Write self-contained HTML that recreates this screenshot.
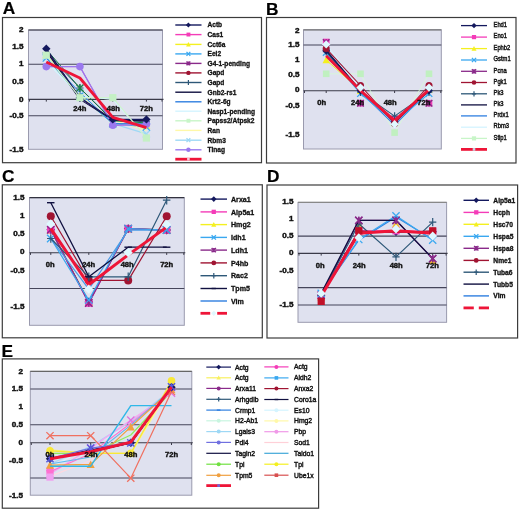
<!DOCTYPE html>
<html><head><meta charset="utf-8"><style>
html,body{margin:0;padding:0;background:#fff;width:520px;height:511px;overflow:hidden}
svg{display:block;filter:blur(0.35px)}
text{font-family:"Liberation Sans", sans-serif}
</style></head><body>
<svg width="520" height="511" viewBox="0 0 520 511">
<rect width="520" height="511" fill="#fff"/>
<rect x="2.5" y="17.5" width="259.0" height="145.2" fill="#fff" stroke="#3c3c3c" stroke-width="1.2"/>
<text x="2.8" y="14.0" font-size="17.3" font-weight="bold" text-anchor="start" fill="#000" stroke="#000" stroke-width="0.2">A</text>
<rect x="28.5" y="30" width="134.0" height="119.30000000000001" fill="#dfe1ef" stroke="#9a9aae" stroke-width="1"/>
<line x1="28.5" y1="30" x2="162.5" y2="30" stroke="#333340" stroke-width="1.2"/>
<line x1="28.5" y1="64.3" x2="162.5" y2="64.3" stroke="#45455a" stroke-width="1.1"/>
<line x1="28.5" y1="115.8" x2="162.5" y2="115.8" stroke="#45455a" stroke-width="1.1"/>
<line x1="28.5" y1="99.4" x2="163.5" y2="99.4" stroke="#3a3a48" stroke-width="1.1"/>
<line x1="46.3" y1="99.4" x2="46.3" y2="101.6" stroke="#3a3a48" stroke-width="1"/>
<line x1="79.9" y1="99.4" x2="79.9" y2="101.6" stroke="#3a3a48" stroke-width="1"/>
<line x1="112.8" y1="99.4" x2="112.8" y2="101.6" stroke="#3a3a48" stroke-width="1"/>
<line x1="146.4" y1="99.4" x2="146.4" y2="101.6" stroke="#3a3a48" stroke-width="1"/>
<line x1="29.5" y1="99.4" x2="29.5" y2="101.6" stroke="#3a3a48" stroke-width="1"/>
<line x1="162.0" y1="99.4" x2="162.0" y2="101.6" stroke="#3a3a48" stroke-width="1"/>
<text x="23.5" y="32.2" font-size="8.1" font-weight="bold" text-anchor="end" fill="#111" stroke="#111" stroke-width="0.45">2</text>
<text x="23.5" y="49.3" font-size="8.1" font-weight="bold" text-anchor="end" fill="#111" stroke="#111" stroke-width="0.45">1.5</text>
<text x="23.5" y="66.4" font-size="8.1" font-weight="bold" text-anchor="end" fill="#111" stroke="#111" stroke-width="0.45">1</text>
<text x="23.5" y="83.7" font-size="8.1" font-weight="bold" text-anchor="end" fill="#111" stroke="#111" stroke-width="0.45">0.5</text>
<text x="23.5" y="101.5" font-size="8.1" font-weight="bold" text-anchor="end" fill="#111" stroke="#111" stroke-width="0.45">0</text>
<text x="23.5" y="118.2" font-size="8.1" font-weight="bold" text-anchor="end" fill="#111" stroke="#111" stroke-width="0.45">-0.5</text>
<text x="23.5" y="152.1" font-size="8.1" font-weight="bold" text-anchor="end" fill="#111" stroke="#111" stroke-width="0.45">-1.5</text>
<polyline points="46.3,61.5 79.9,96.0 112.8,99.4 146.4,137.4" fill="none" stroke="#d4f4ff" stroke-width="1.1" stroke-linejoin="round"/>
<polyline points="46.3,58.0 79.9,96.0 112.8,120.1 146.4,130.5" fill="none" stroke="#fff8a8" stroke-width="1.1" stroke-linejoin="round"/>
<polyline points="46.3,56.3 79.9,92.5 112.8,123.6 146.4,133.9" fill="none" stroke="#9ed8f5" stroke-width="1.1" stroke-linejoin="round"/>
<path d="M42.7 52.7L49.9 59.9M49.9 52.7L42.7 59.9" stroke="#9ed8f5" stroke-width="1.3" fill="none"/>
<path d="M76.3 88.9L83.5 96.1M83.5 88.9L76.3 96.1" stroke="#9ed8f5" stroke-width="1.3" fill="none"/>
<path d="M109.2 120.0L116.4 127.2M116.4 120.0L109.2 127.2" stroke="#9ed8f5" stroke-width="1.3" fill="none"/>
<path d="M142.8 130.3L150.0 137.5M150.0 130.3L142.8 137.5" stroke="#9ed8f5" stroke-width="1.3" fill="none"/>
<polyline points="46.3,66.6 79.9,66.6 112.8,125.3 146.4,124.2" fill="none" stroke="#f43cb8" stroke-width="1.0" stroke-linejoin="round"/>
<polyline points="46.3,54.6 79.9,96.0 112.8,123.6 146.4,125.3" fill="none" stroke="#f0f060" stroke-width="1.0" stroke-linejoin="round"/>
<path d="M46.3 50.6L50.3 58.2L42.3 58.2Z" fill="#f0f060"/>
<path d="M79.9 92.0L83.9 99.5L75.9 99.5Z" fill="#f0f060"/>
<path d="M112.8 119.6L116.8 127.2L108.8 127.2Z" fill="#f0f060"/>
<path d="M146.4 121.3L150.4 128.9L142.4 128.9Z" fill="#f0f060"/>
<polyline points="46.3,58.0 79.9,96.0 112.8,123.6 146.4,127.0" fill="none" stroke="#3aa8f0" stroke-width="1.0" stroke-linejoin="round"/>
<path d="M42.7 54.4L49.9 61.6M49.9 54.4L42.7 61.6" stroke="#3aa8f0" stroke-width="1.3" fill="none"/>
<path d="M76.3 92.4L83.5 99.5M83.5 92.4L76.3 99.5" stroke="#3aa8f0" stroke-width="1.3" fill="none"/>
<path d="M109.2 120.0L116.4 127.2M116.4 120.0L109.2 127.2" stroke="#3aa8f0" stroke-width="1.3" fill="none"/>
<path d="M142.8 123.4L150.0 130.6M150.0 123.4L142.8 130.6" stroke="#3aa8f0" stroke-width="1.3" fill="none"/>
<polyline points="46.3,49.4 79.9,97.7 112.8,120.1 146.4,120.1" fill="none" stroke="#8a2a8a" stroke-width="1.0" stroke-linejoin="round"/>
<polyline points="46.3,49.4 79.9,97.7 112.8,120.1 146.4,120.1" fill="none" stroke="#a01432" stroke-width="1.0" stroke-linejoin="round"/>
<polyline points="46.3,58.0 79.9,92.5 112.8,123.6 146.4,123.6" fill="none" stroke="#2f7fe0" stroke-width="1.0" stroke-linejoin="round"/>
<polyline points="46.3,52.8 79.9,88.0 112.8,120.1 146.4,121.8" fill="none" stroke="#2e5878" stroke-width="1.0" stroke-linejoin="round"/>
<path d="M42.7 52.8L49.9 52.8M46.3 48.7L46.3 56.9" stroke="#2e5878" stroke-width="1.2" fill="none"/>
<path d="M76.3 88.0L83.5 88.0M79.9 83.9L79.9 92.1" stroke="#2e5878" stroke-width="1.2" fill="none"/>
<path d="M109.2 120.1L116.4 120.1M112.8 116.0L112.8 124.2" stroke="#2e5878" stroke-width="1.2" fill="none"/>
<path d="M142.8 121.8L150.0 121.8M146.4 117.7L146.4 125.9" stroke="#2e5878" stroke-width="1.2" fill="none"/>
<polyline points="46.3,49.4 79.9,88.0 112.8,120.8 146.4,122.9" fill="none" stroke="#157a40" stroke-width="1.0" stroke-linejoin="round"/>
<path d="M76.3 84.4L83.5 91.6M83.5 84.4L76.3 91.6M79.9 84.4L79.9 91.6" stroke="#1d8048" stroke-width="1.4" fill="none"/>
<polyline points="46.3,51.1 79.9,99.4 112.8,120.1 146.4,120.8" fill="none" stroke="#101040" stroke-width="1.1" stroke-linejoin="round"/>
<polyline points="46.3,66.6 79.9,66.6 112.8,125.3 146.4,124.2" fill="none" stroke="#9a78ee" stroke-width="1.3" stroke-linejoin="round"/>
<circle cx="46.3" cy="66.6" r="3.8" fill="#9a78ee"/>
<circle cx="79.9" cy="66.6" r="3.8" fill="#9a78ee"/>
<circle cx="112.8" cy="125.3" r="3.8" fill="#9a78ee"/>
<circle cx="146.4" cy="124.2" r="3.8" fill="#9a78ee"/>
<polyline points="46.3,48.7 79.9,97.7 112.8,119.4 146.4,119.4" fill="none" stroke="#14195e" stroke-width="1.2" stroke-linejoin="round"/>
<path d="M46.3 44.5L50.5 48.7L46.3 52.9L42.1 48.7Z" fill="#14195e"/>
<path d="M79.9 93.5L84.1 97.7L79.9 101.9L75.7 97.7Z" fill="#14195e"/>
<path d="M112.8 115.2L117.0 119.4L112.8 123.6L108.6 119.4Z" fill="#14195e"/>
<path d="M146.4 115.2L150.6 119.4L146.4 123.6L142.2 119.4Z" fill="#14195e"/>
<polyline points="46.3,55.2 79.9,97.7 112.8,97.7 146.4,138.0" fill="none" stroke="#d0f4d0" stroke-width="1.2" stroke-linejoin="round"/>
<rect x="42.7" y="51.6" width="7.2" height="7.2" fill="#c4f0c4"/>
<rect x="76.3" y="94.1" width="7.2" height="7.2" fill="#c4f0c4"/>
<rect x="109.2" y="94.1" width="7.2" height="7.2" fill="#c4f0c4"/>
<rect x="142.8" y="134.4" width="7.2" height="7.2" fill="#c4f0c4"/>
<polyline points="46.3,62.1 79.9,78.0 112.8,117.3 146.4,127.7" fill="none" stroke="#ee1538" stroke-width="2.8" stroke-linejoin="round"/>
<text x="79.9" y="111.3" font-size="7.6" font-weight="bold" text-anchor="middle" fill="#111" stroke="#111" stroke-width="0.4">24h</text>
<text x="113.3" y="111.3" font-size="7.6" font-weight="bold" text-anchor="middle" fill="#111" stroke="#111" stroke-width="0.4">48h</text>
<text x="146.3" y="111.3" font-size="7.6" font-weight="bold" text-anchor="middle" fill="#111" stroke="#111" stroke-width="0.4">72h</text>
<line x1="175.3" y1="25.0" x2="201.5" y2="25.0" stroke="#14195e" stroke-width="1.4"/>
<path d="M188.4 22.4L190.9 25.0L188.4 27.6L185.9 25.0Z" fill="#14195e"/>
<text x="207.5" y="27.4" font-size="6.6" font-weight="bold" text-anchor="start" fill="#111" stroke="#111" stroke-width="0.3">Actb</text>
<line x1="175.3" y1="34.6" x2="201.5" y2="34.6" stroke="#f43cb8" stroke-width="1.4"/>
<rect x="186.5" y="32.6" width="3.9" height="3.9" fill="#f43cb8"/>
<text x="207.5" y="37.0" font-size="6.6" font-weight="bold" text-anchor="start" fill="#111" stroke="#111" stroke-width="0.3">Cas1</text>
<line x1="175.3" y1="44.4" x2="201.5" y2="44.4" stroke="#f4f020" stroke-width="1.4"/>
<path d="M188.4 42.0L190.8 46.4L186.1 46.4Z" fill="#f4f020"/>
<text x="207.5" y="46.8" font-size="6.6" font-weight="bold" text-anchor="start" fill="#111" stroke="#111" stroke-width="0.3">Cct6a</text>
<line x1="175.3" y1="53.9" x2="201.5" y2="53.9" stroke="#3aa8f0" stroke-width="1.4"/>
<path d="M186.5 51.9L190.3 55.9M190.3 51.9L186.5 55.9" stroke="#3aa8f0" stroke-width="1.3" fill="none"/>
<text x="207.5" y="56.3" font-size="6.6" font-weight="bold" text-anchor="start" fill="#111" stroke="#111" stroke-width="0.3">Eel2</text>
<line x1="175.3" y1="63.4" x2="201.5" y2="63.4" stroke="#8a2a8a" stroke-width="1.4"/>
<path d="M186.5 61.4L190.3 65.3M190.3 61.4L186.5 65.3M188.4 61.4L188.4 65.3" stroke="#8a2a8a" stroke-width="1.4" fill="none"/>
<text x="207.5" y="65.8" font-size="6.6" font-weight="bold" text-anchor="start" fill="#111" stroke="#111" stroke-width="0.3">G4-1-pending</text>
<line x1="175.3" y1="72.9" x2="201.5" y2="72.9" stroke="#a01432" stroke-width="1.4"/>
<circle cx="188.4" cy="72.9" r="2.2" fill="#a01432"/>
<text x="207.5" y="75.3" font-size="6.6" font-weight="bold" text-anchor="start" fill="#111" stroke="#111" stroke-width="0.3">Gapd</text>
<line x1="175.3" y1="82.5" x2="201.5" y2="82.5" stroke="#2e5878" stroke-width="1.4"/>
<path d="M186.5 82.5L190.3 82.5M188.4 80.0L188.4 85.0" stroke="#2e5878" stroke-width="1.2" fill="none"/>
<text x="207.5" y="84.9" font-size="6.6" font-weight="bold" text-anchor="start" fill="#111" stroke="#111" stroke-width="0.3">Gapd</text>
<line x1="175.3" y1="92.2" x2="201.5" y2="92.2" stroke="#101040" stroke-width="1.4"/>
<text x="207.5" y="94.6" font-size="6.6" font-weight="bold" text-anchor="start" fill="#111" stroke="#111" stroke-width="0.3">Gnb2-rs1</text>
<line x1="175.3" y1="101.8" x2="201.5" y2="101.8" stroke="#2f7fe0" stroke-width="1.4"/>
<text x="207.5" y="104.2" font-size="6.6" font-weight="bold" text-anchor="start" fill="#111" stroke="#111" stroke-width="0.3">Krt2-6g</text>
<line x1="175.3" y1="111.2" x2="201.5" y2="111.2" stroke="#d4f4ff" stroke-width="1.4"/>
<text x="207.5" y="113.6" font-size="6.6" font-weight="bold" text-anchor="start" fill="#111" stroke="#111" stroke-width="0.3">Nasp1-pending</text>
<line x1="175.3" y1="120.8" x2="201.5" y2="120.8" stroke="#c8f5c8" stroke-width="1.4"/>
<rect x="186.5" y="118.8" width="3.9" height="3.9" fill="#c8f5c8"/>
<text x="207.5" y="123.2" font-size="6.6" font-weight="bold" text-anchor="start" fill="#111" stroke="#111" stroke-width="0.3">Papss2/Atpsk2</text>
<line x1="175.3" y1="130.4" x2="201.5" y2="130.4" stroke="#fff8a8" stroke-width="1.4"/>
<text x="207.5" y="132.8" font-size="6.6" font-weight="bold" text-anchor="start" fill="#111" stroke="#111" stroke-width="0.3">Ran</text>
<line x1="175.3" y1="140.2" x2="201.5" y2="140.2" stroke="#9ed8f5" stroke-width="1.4"/>
<path d="M186.5 138.2L190.3 142.1M190.3 138.2L186.5 142.1" stroke="#9ed8f5" stroke-width="1.3" fill="none"/>
<text x="207.5" y="142.6" font-size="6.6" font-weight="bold" text-anchor="start" fill="#111" stroke="#111" stroke-width="0.3">Rbm3</text>
<line x1="175.3" y1="149.8" x2="201.5" y2="149.8" stroke="#9a78ee" stroke-width="1.4"/>
<circle cx="188.4" cy="149.8" r="2.2" fill="#9a78ee"/>
<text x="207.5" y="152.2" font-size="6.6" font-weight="bold" text-anchor="start" fill="#111" stroke="#111" stroke-width="0.3">Tinag</text>
<line x1="175.3" y1="159.2" x2="201.5" y2="159.2" stroke="#ee1538" stroke-width="2.8"/>
<rect x="187.1" y="157.9" width="2.6" height="2.6" fill="#f4c8d8"/>
<rect x="266.5" y="17.5" width="249.5" height="145.5" fill="#fff" stroke="#3c3c3c" stroke-width="1.2"/>
<text x="265.9" y="15.0" font-size="17.3" font-weight="bold" text-anchor="start" fill="#000" stroke="#000" stroke-width="0.2">B</text>
<rect x="303.5" y="29.8" width="137.8" height="119.2" fill="#dfe1ef" stroke="#9a9aae" stroke-width="1"/>
<line x1="303.5" y1="29.8" x2="441.3" y2="29.8" stroke="#777" stroke-width="1.2"/>
<line x1="303.5" y1="45.0" x2="441.3" y2="45.0" stroke="#45455a" stroke-width="1.1"/>
<line x1="303.5" y1="90.8" x2="442.3" y2="90.8" stroke="#3a3a48" stroke-width="1.1"/>
<line x1="326.2" y1="90.8" x2="326.2" y2="93.0" stroke="#3a3a48" stroke-width="1"/>
<line x1="360.5" y1="90.8" x2="360.5" y2="93.0" stroke="#3a3a48" stroke-width="1"/>
<line x1="394.6" y1="90.8" x2="394.6" y2="93.0" stroke="#3a3a48" stroke-width="1"/>
<line x1="429.0" y1="90.8" x2="429.0" y2="93.0" stroke="#3a3a48" stroke-width="1"/>
<line x1="304.5" y1="90.8" x2="304.5" y2="93.0" stroke="#3a3a48" stroke-width="1"/>
<line x1="440.8" y1="90.8" x2="440.8" y2="93.0" stroke="#3a3a48" stroke-width="1"/>
<text x="299.5" y="33.0" font-size="8.1" font-weight="bold" text-anchor="end" fill="#111" stroke="#111" stroke-width="0.45">2</text>
<text x="299.5" y="47.4" font-size="8.1" font-weight="bold" text-anchor="end" fill="#111" stroke="#111" stroke-width="0.45">1.5</text>
<text x="299.5" y="62.4" font-size="8.1" font-weight="bold" text-anchor="end" fill="#111" stroke="#111" stroke-width="0.45">1</text>
<text x="299.5" y="77.3" font-size="8.1" font-weight="bold" text-anchor="end" fill="#111" stroke="#111" stroke-width="0.45">0.5</text>
<text x="299.5" y="92.4" font-size="8.1" font-weight="bold" text-anchor="end" fill="#111" stroke="#111" stroke-width="0.45">0</text>
<text x="299.5" y="107.5" font-size="8.1" font-weight="bold" text-anchor="end" fill="#111" stroke="#111" stroke-width="0.45">-0.5</text>
<text x="299.5" y="137.3" font-size="8.1" font-weight="bold" text-anchor="end" fill="#111" stroke="#111" stroke-width="0.45">-1.5</text>
<polyline points="326.2,73.8 360.5,73.8 394.6,132.6 429.0,73.8" fill="none" stroke="#d8f8d8" stroke-width="0.9" stroke-linejoin="round"/>
<rect x="322.9" y="70.5" width="6.6" height="6.6" fill="#c0f0c0"/>
<rect x="357.2" y="70.5" width="6.6" height="6.6" fill="#c0f0c0"/>
<rect x="391.3" y="129.3" width="6.6" height="6.6" fill="#c0f0c0"/>
<rect x="425.7" y="70.5" width="6.6" height="6.6" fill="#c0f0c0"/>
<polyline points="326.2,44.4 360.5,87.6 394.6,123.6 429.0,87.6" fill="none" stroke="#d4f4ff" stroke-width="1.0" stroke-linejoin="round"/>
<path d="M326.2 40.3L330.3 44.4L326.2 48.5L322.1 44.4Z" fill="#dff8ff"/>
<path d="M360.5 83.5L364.6 87.6L360.5 91.7L356.4 87.6Z" fill="#dff8ff"/>
<path d="M394.6 119.5L398.7 123.6L394.6 127.7L390.5 123.6Z" fill="#dff8ff"/>
<path d="M429.0 83.5L433.1 87.6L429.0 91.7L424.9 87.6Z" fill="#dff8ff"/>
<rect x="322.9" y="38.7" width="6.6" height="6.6" fill="#f43cb8"/>
<rect x="357.2" y="99.9" width="6.6" height="6.6" fill="#f43cb8"/>
<rect x="391.3" y="115.8" width="6.6" height="6.6" fill="#f43cb8"/>
<rect x="425.7" y="99.9" width="6.6" height="6.6" fill="#f43cb8"/>
<polyline points="326.2,60.0 360.5,90.6 394.6,122.1 429.0,89.1" fill="none" stroke="#f4f020" stroke-width="1.0" stroke-linejoin="round"/>
<path d="M326.2 56.3L329.9 63.3L322.5 63.3Z" fill="#f4f020"/>
<path d="M360.5 86.9L364.2 93.9L356.8 93.9Z" fill="#f4f020"/>
<path d="M394.6 118.4L398.3 125.4L390.9 125.4Z" fill="#f4f020"/>
<path d="M429.0 85.4L432.7 92.4L425.3 92.4Z" fill="#f4f020"/>
<path d="M322.9 39.3L329.5 45.9M329.5 39.3L322.9 45.9M326.2 39.3L326.2 45.9" stroke="#8a2a8a" stroke-width="1.4" fill="none"/>
<path d="M357.2 99.9L363.8 106.5M363.8 99.9L357.2 106.5M360.5 99.9L360.5 106.5" stroke="#8a2a8a" stroke-width="1.4" fill="none"/>
<path d="M391.3 117.3L397.9 123.9M397.9 117.3L391.3 123.9M394.6 117.3L394.6 123.9" stroke="#8a2a8a" stroke-width="1.4" fill="none"/>
<path d="M425.7 99.9L432.3 106.5M432.3 99.9L425.7 106.5M429.0 99.9L429.0 106.5" stroke="#8a2a8a" stroke-width="1.4" fill="none"/>
<polyline points="326.2,51.6 360.5,92.1 394.6,125.1 429.0,90.6" fill="none" stroke="#2f7fe0" stroke-width="1.1" stroke-linejoin="round"/>
<polyline points="326.2,52.5 360.5,93.6 394.6,122.1 429.0,93.6" fill="none" stroke="#3aa8f0" stroke-width="1.2" stroke-linejoin="round"/>
<path d="M322.9 49.2L329.5 55.8M329.5 49.2L322.9 55.8" stroke="#3aa8f0" stroke-width="1.3" fill="none"/>
<path d="M357.2 90.3L363.8 96.9M363.8 90.3L357.2 96.9" stroke="#3aa8f0" stroke-width="1.3" fill="none"/>
<path d="M391.3 118.8L397.9 125.4M397.9 118.8L391.3 125.4" stroke="#3aa8f0" stroke-width="1.3" fill="none"/>
<path d="M425.7 90.3L432.3 96.9M432.3 90.3L425.7 96.9" stroke="#3aa8f0" stroke-width="1.3" fill="none"/>
<polyline points="326.2,51.6 360.5,92.1 394.6,116.1 429.0,92.1" fill="none" stroke="#2e5878" stroke-width="1.1" stroke-linejoin="round"/>
<path d="M322.9 51.6L329.5 51.6M326.2 47.8L326.2 55.4" stroke="#2e5878" stroke-width="1.2" fill="none"/>
<path d="M357.2 92.1L363.8 92.1M360.5 88.3L360.5 95.9" stroke="#2e5878" stroke-width="1.2" fill="none"/>
<path d="M391.3 116.1L397.9 116.1M394.6 112.3L394.6 119.9" stroke="#2e5878" stroke-width="1.2" fill="none"/>
<path d="M425.7 92.1L432.3 92.1M429.0 88.3L429.0 95.9" stroke="#2e5878" stroke-width="1.2" fill="none"/>
<polyline points="326.2,50.1 360.5,90.6 394.6,120.6 429.0,90.6" fill="none" stroke="#101040" stroke-width="1.1" stroke-linejoin="round"/>
<polyline points="326.2,50.7 360.5,90.6 394.6,122.1 429.0,90.6" fill="none" stroke="#14195e" stroke-width="1.1" stroke-linejoin="round"/>
<path d="M326.2 46.8L330.1 50.7L326.2 54.6L322.3 50.7Z" fill="#14195e"/>
<path d="M360.5 86.7L364.4 90.6L360.5 94.5L356.6 90.6Z" fill="#14195e"/>
<path d="M394.6 118.2L398.5 122.1L394.6 126.0L390.7 122.1Z" fill="#14195e"/>
<path d="M429.0 86.7L432.9 90.6L429.0 94.5L425.1 90.6Z" fill="#14195e"/>
<polyline points="326.2,48.6 360.5,85.5 394.6,123.6 429.0,85.5" fill="none" stroke="#a01432" stroke-width="1.1" stroke-linejoin="round"/>
<circle cx="326.2" cy="48.6" r="3.5" fill="#a01432"/>
<circle cx="360.5" cy="85.5" r="3.5" fill="#a01432"/>
<circle cx="394.6" cy="123.6" r="3.5" fill="#a01432"/>
<circle cx="429.0" cy="85.5" r="3.5" fill="#a01432"/>
<polyline points="326.2,55.8 360.5,90.6 394.6,120.6 429.0,89.7" fill="none" stroke="#ee1538" stroke-width="2.8" stroke-linejoin="round"/>
<path d="M326.2 40.3L330.3 44.4L326.2 48.5L322.1 44.4Z" fill="#dff8ff"/>
<path d="M360.5 83.5L364.6 87.6L360.5 91.7L356.4 87.6Z" fill="#dff8ff"/>
<path d="M394.6 120.1L398.7 124.2L394.6 128.3L390.5 124.2Z" fill="#dff8ff"/>
<path d="M429.0 83.5L433.1 87.6L429.0 91.7L424.9 87.6Z" fill="#dff8ff"/>
<text x="321.7" y="104.8" font-size="7.6" font-weight="bold" text-anchor="middle" fill="#111" stroke="#111" stroke-width="0.4">0h</text>
<text x="357.5" y="105.2" font-size="7.6" font-weight="bold" text-anchor="middle" fill="#111" stroke="#111" stroke-width="0.4">24h</text>
<text x="390.2" y="105.2" font-size="7.6" font-weight="bold" text-anchor="middle" fill="#111" stroke="#111" stroke-width="0.4">48h</text>
<text x="423.8" y="105.2" font-size="7.6" font-weight="bold" text-anchor="middle" fill="#111" stroke="#111" stroke-width="0.4">72h</text>
<line x1="461.0" y1="25.6" x2="487.0" y2="25.6" stroke="#14195e" stroke-width="1.3"/>
<path d="M474.0 22.9L476.7 25.6L474.0 28.3L471.3 25.6Z" fill="#14195e"/>
<text transform="translate(493.5 26.8) scale(0.87 1)" font-size="6.7" font-weight="normal" text-anchor="start" fill="#111" stroke="#111" stroke-width="0.4">Ehd1</text>
<line x1="461.0" y1="37.1" x2="487.0" y2="37.1" stroke="#f43cb8" stroke-width="1.3"/>
<rect x="471.9" y="35.0" width="4.2" height="4.2" fill="#f43cb8"/>
<text transform="translate(493.5 38.3) scale(0.87 1)" font-size="6.7" font-weight="normal" text-anchor="start" fill="#111" stroke="#111" stroke-width="0.4">Eno1</text>
<line x1="461.0" y1="48.6" x2="487.0" y2="48.6" stroke="#f4f020" stroke-width="1.3"/>
<path d="M474.0 46.1L476.5 50.7L471.5 50.7Z" fill="#f4f020"/>
<text transform="translate(493.5 49.8) scale(0.87 1)" font-size="6.7" font-weight="normal" text-anchor="start" fill="#111" stroke="#111" stroke-width="0.4">Ephb2</text>
<line x1="461.0" y1="60.0" x2="487.0" y2="60.0" stroke="#3aa8f0" stroke-width="1.3"/>
<path d="M471.9 57.9L476.1 62.1M476.1 57.9L471.9 62.1" stroke="#3aa8f0" stroke-width="1.3" fill="none"/>
<text transform="translate(493.5 61.2) scale(0.87 1)" font-size="6.7" font-weight="normal" text-anchor="start" fill="#111" stroke="#111" stroke-width="0.4">Gstm1</text>
<line x1="461.0" y1="71.3" x2="487.0" y2="71.3" stroke="#8a2a8a" stroke-width="1.3"/>
<path d="M471.9 69.2L476.1 73.4M476.1 69.2L471.9 73.4M474.0 69.2L474.0 73.4" stroke="#8a2a8a" stroke-width="1.4" fill="none"/>
<text transform="translate(493.5 72.5) scale(0.87 1)" font-size="6.7" font-weight="normal" text-anchor="start" fill="#111" stroke="#111" stroke-width="0.4">Pcna</text>
<line x1="461.0" y1="82.5" x2="487.0" y2="82.5" stroke="#a01432" stroke-width="1.3"/>
<circle cx="474.0" cy="82.5" r="2.3" fill="#a01432"/>
<text transform="translate(493.5 83.7) scale(0.87 1)" font-size="6.7" font-weight="normal" text-anchor="start" fill="#111" stroke="#111" stroke-width="0.4">Pgk1</text>
<line x1="461.0" y1="93.8" x2="487.0" y2="93.8" stroke="#2e5878" stroke-width="1.3"/>
<path d="M471.9 93.8L476.1 93.8M474.0 91.2L474.0 96.4" stroke="#2e5878" stroke-width="1.2" fill="none"/>
<text transform="translate(493.5 95.0) scale(0.87 1)" font-size="6.7" font-weight="normal" text-anchor="start" fill="#111" stroke="#111" stroke-width="0.4">Pk3</text>
<line x1="461.0" y1="104.9" x2="487.0" y2="104.9" stroke="#101040" stroke-width="1.3"/>
<text transform="translate(493.5 106.1) scale(0.87 1)" font-size="6.7" font-weight="normal" text-anchor="start" fill="#111" stroke="#111" stroke-width="0.4">Pk3</text>
<line x1="461.0" y1="115.9" x2="487.0" y2="115.9" stroke="#2f7fe0" stroke-width="1.3"/>
<text transform="translate(493.5 117.1) scale(0.87 1)" font-size="6.7" font-weight="normal" text-anchor="start" fill="#111" stroke="#111" stroke-width="0.4">Prdx1</text>
<line x1="461.0" y1="127.2" x2="487.0" y2="127.2" stroke="#d4f4ff" stroke-width="1.3"/>
<text transform="translate(493.5 128.4) scale(0.87 1)" font-size="6.7" font-weight="normal" text-anchor="start" fill="#111" stroke="#111" stroke-width="0.4">Rbm3</text>
<line x1="461.0" y1="138.4" x2="487.0" y2="138.4" stroke="#c8f5c8" stroke-width="1.3"/>
<rect x="471.9" y="136.3" width="4.2" height="4.2" fill="#c8f5c8"/>
<text transform="translate(493.5 139.6) scale(0.87 1)" font-size="6.7" font-weight="normal" text-anchor="start" fill="#111" stroke="#111" stroke-width="0.4">Stip1</text>
<line x1="461.0" y1="149.4" x2="487.0" y2="149.4" stroke="#ee1538" stroke-width="2.8"/>
<rect x="472.7" y="148.1" width="2.6" height="2.6" fill="#c8d8e8"/>
<rect x="2.3" y="184.8" width="260.0" height="153.0" fill="#fff" stroke="#3c3c3c" stroke-width="1.2"/>
<text x="2.0" y="181.8" font-size="17.3" font-weight="bold" text-anchor="start" fill="#000" stroke="#000" stroke-width="0.2">C</text>
<rect x="29.5" y="197.7" width="154.8" height="127.60000000000002" fill="#dfe1ef" stroke="#9a9aae" stroke-width="1"/>
<line x1="29.5" y1="197.7" x2="184.3" y2="197.7" stroke="#333340" stroke-width="1.2"/>
<line x1="29.5" y1="288.5" x2="184.3" y2="288.5" stroke="#45455a" stroke-width="1.1"/>
<line x1="29.5" y1="252.7" x2="185.3" y2="252.7" stroke="#3a3a48" stroke-width="1.1"/>
<line x1="50.8" y1="252.7" x2="50.8" y2="254.9" stroke="#3a3a48" stroke-width="1"/>
<line x1="88.8" y1="252.7" x2="88.8" y2="254.9" stroke="#3a3a48" stroke-width="1"/>
<line x1="128.2" y1="252.7" x2="128.2" y2="254.9" stroke="#3a3a48" stroke-width="1"/>
<line x1="166.7" y1="252.7" x2="166.7" y2="254.9" stroke="#3a3a48" stroke-width="1"/>
<line x1="30.5" y1="252.7" x2="30.5" y2="254.9" stroke="#3a3a48" stroke-width="1"/>
<line x1="183.8" y1="252.7" x2="183.8" y2="254.9" stroke="#3a3a48" stroke-width="1"/>
<text x="24.5" y="200.1" font-size="8.1" font-weight="bold" text-anchor="end" fill="#111" stroke="#111" stroke-width="0.45">1.5</text>
<text x="24.5" y="218.2" font-size="8.1" font-weight="bold" text-anchor="end" fill="#111" stroke="#111" stroke-width="0.45">1</text>
<text x="24.5" y="235.9" font-size="8.1" font-weight="bold" text-anchor="end" fill="#111" stroke="#111" stroke-width="0.45">0.5</text>
<text x="24.5" y="254.1" font-size="8.1" font-weight="bold" text-anchor="end" fill="#111" stroke="#111" stroke-width="0.45">0</text>
<text x="24.5" y="272.8" font-size="8.1" font-weight="bold" text-anchor="end" fill="#111" stroke="#111" stroke-width="0.45">-0.5</text>
<text x="24.5" y="309.1" font-size="8.1" font-weight="bold" text-anchor="end" fill="#111" stroke="#111" stroke-width="0.45">-1.5</text>
<polyline points="50.8,229.7 88.8,302.0 128.2,228.6 166.7,230.1" fill="none" stroke="#f4f020" stroke-width="1.2" stroke-linejoin="round"/>
<path d="M50.8 225.6L54.9 233.5L46.6 233.5Z" fill="#f4f020"/>
<path d="M88.8 297.8L93.0 305.7L84.6 305.7Z" fill="#f4f020"/>
<path d="M128.2 224.5L132.3 232.4L124.0 232.4Z" fill="#f4f020"/>
<path d="M166.7 225.9L170.8 233.8L162.5 233.8Z" fill="#f4f020"/>
<polyline points="50.8,229.7 88.8,302.0 128.2,228.6 166.7,230.1" fill="none" stroke="#14195e" stroke-width="1.2" stroke-linejoin="round"/>
<path d="M50.8 225.4L55.1 229.7L50.8 234.1L46.4 229.7Z" fill="#14195e"/>
<path d="M88.8 297.6L93.1 302.0L88.8 306.3L84.5 302.0Z" fill="#14195e"/>
<path d="M128.2 224.3L132.5 228.6L128.2 233.0L123.8 228.6Z" fill="#14195e"/>
<path d="M166.7 225.7L171.0 230.1L166.7 234.4L162.3 230.1Z" fill="#14195e"/>
<polyline points="50.8,229.7 88.8,303.1 128.2,228.6 166.7,230.1" fill="none" stroke="#f43cb8" stroke-width="1.2" stroke-linejoin="round"/>
<rect x="47.0" y="226.0" width="7.5" height="7.5" fill="#f43cb8"/>
<rect x="85.0" y="299.3" width="7.5" height="7.5" fill="#f43cb8"/>
<rect x="124.4" y="224.9" width="7.5" height="7.5" fill="#f43cb8"/>
<rect x="162.9" y="226.3" width="7.5" height="7.5" fill="#f43cb8"/>
<polyline points="50.8,229.7 88.8,303.1 128.2,228.6 166.7,230.1" fill="none" stroke="#8a2a8a" stroke-width="1.2" stroke-linejoin="round"/>
<path d="M47.0 226.0L54.5 233.5M54.5 226.0L47.0 233.5M50.8 226.0L50.8 233.5" stroke="#8a2a8a" stroke-width="1.4" fill="none"/>
<path d="M85.0 299.3L92.5 306.8M92.5 299.3L85.0 306.8M88.8 299.3L88.8 306.8" stroke="#8a2a8a" stroke-width="1.4" fill="none"/>
<path d="M124.4 224.9L131.9 232.4M131.9 224.9L124.4 232.4M128.2 224.9L128.2 232.4" stroke="#8a2a8a" stroke-width="1.4" fill="none"/>
<path d="M162.9 226.3L170.4 233.8M170.4 226.3L162.9 233.8M166.7 226.3L166.7 233.8" stroke="#8a2a8a" stroke-width="1.4" fill="none"/>
<polyline points="50.8,238.5 88.8,300.1 128.2,228.6 166.7,230.1" fill="none" stroke="#3aa8f0" stroke-width="1.2" stroke-linejoin="round"/>
<path d="M47.0 234.7L54.5 242.2M54.5 234.7L47.0 242.2" stroke="#3aa8f0" stroke-width="1.3" fill="none"/>
<path d="M85.0 296.4L92.5 303.9M92.5 296.4L85.0 303.9" stroke="#3aa8f0" stroke-width="1.3" fill="none"/>
<path d="M124.4 224.9L131.9 232.4M131.9 224.9L124.4 232.4" stroke="#3aa8f0" stroke-width="1.3" fill="none"/>
<path d="M162.9 226.3L170.4 233.8M170.4 226.3L162.9 233.8" stroke="#3aa8f0" stroke-width="1.3" fill="none"/>
<polyline points="50.8,238.5 88.8,289.2 128.2,230.1 166.7,230.1" fill="none" stroke="#4a9be8" stroke-width="1.2" stroke-linejoin="round"/>
<polyline points="50.8,216.2 88.8,280.4 128.2,280.4 166.7,216.2" fill="none" stroke="#a01432" stroke-width="1.2" stroke-linejoin="round"/>
<circle cx="50.8" cy="216.2" r="4.0" fill="#a01432"/>
<circle cx="88.8" cy="280.4" r="4.0" fill="#a01432"/>
<circle cx="128.2" cy="280.4" r="4.0" fill="#a01432"/>
<circle cx="166.7" cy="216.2" r="4.0" fill="#a01432"/>
<polyline points="50.8,238.5 88.8,276.8 128.2,276.8 166.7,200.1" fill="none" stroke="#2e5878" stroke-width="1.2" stroke-linejoin="round"/>
<path d="M47.0 238.5L54.5 238.5M50.8 234.2L50.8 242.7" stroke="#2e5878" stroke-width="1.2" fill="none"/>
<path d="M85.0 276.8L92.5 276.8M88.8 272.5L88.8 281.0" stroke="#2e5878" stroke-width="1.2" fill="none"/>
<path d="M124.4 276.8L131.9 276.8M128.2 272.5L128.2 281.0" stroke="#2e5878" stroke-width="1.2" fill="none"/>
<path d="M162.9 200.1L170.4 200.1M166.7 195.9L166.7 204.4" stroke="#2e5878" stroke-width="1.2" fill="none"/>
<polyline points="50.8,202.7 88.8,276.8 128.2,247.2 166.7,247.2" fill="none" stroke="#101040" stroke-width="1.3" stroke-linejoin="round"/>
<path d="M47.0 202.7L54.5 202.7" stroke="#101040" stroke-width="1.4" fill="none"/>
<path d="M85.0 276.8L92.5 276.8" stroke="#101040" stroke-width="1.4" fill="none"/>
<path d="M124.4 247.2L131.9 247.2" stroke="#101040" stroke-width="1.4" fill="none"/>
<path d="M162.9 247.2L170.4 247.2" stroke="#101040" stroke-width="1.4" fill="none"/>
<polyline points="50.8,228.6 88.8,284.8 128.2,254.9 166.7,227.1" fill="none" stroke="#ee1538" stroke-width="3.0" stroke-linejoin="round"/>
<path d="M50.8 219.3L55.3 223.9L50.8 228.4L46.2 223.9Z" fill="#dff8ff"/>
<path d="M88.8 284.6L93.3 289.2L88.8 293.8L84.2 289.2Z" fill="#dff8ff"/>
<path d="M128.2 248.1L132.8 252.7L128.2 257.2L123.6 252.7Z" fill="#dff8ff"/>
<path d="M166.7 220.0L171.2 224.6L166.7 229.1L162.1 224.6Z" fill="#dff8ff"/>
<text x="50.3" y="266.9" font-size="7.6" font-weight="bold" text-anchor="middle" fill="#111" stroke="#111" stroke-width="0.4">0h</text>
<text x="88.7" y="266.9" font-size="7.6" font-weight="bold" text-anchor="middle" fill="#111" stroke="#111" stroke-width="0.4">24h</text>
<text x="127.2" y="266.9" font-size="7.6" font-weight="bold" text-anchor="middle" fill="#111" stroke="#111" stroke-width="0.4">48h</text>
<text x="166.7" y="266.9" font-size="7.6" font-weight="bold" text-anchor="middle" fill="#111" stroke="#111" stroke-width="0.4">72h</text>
<line x1="200.5" y1="199.1" x2="227.0" y2="199.1" stroke="#14195e" stroke-width="1.4"/>
<path d="M213.8 196.3L216.5 199.1L213.8 201.9L211.0 199.1Z" fill="#14195e"/>
<text x="231.0" y="201.7" font-size="7.1" font-weight="bold" text-anchor="start" fill="#111" stroke="#111" stroke-width="0.3">Arxa1</text>
<line x1="200.5" y1="211.9" x2="227.0" y2="211.9" stroke="#f43cb8" stroke-width="1.4"/>
<rect x="211.6" y="209.7" width="4.3" height="4.3" fill="#f43cb8"/>
<text x="231.0" y="214.5" font-size="7.1" font-weight="bold" text-anchor="start" fill="#111" stroke="#111" stroke-width="0.3">Alp5a1</text>
<line x1="200.5" y1="224.6" x2="227.0" y2="224.6" stroke="#f4f020" stroke-width="1.4"/>
<path d="M213.8 222.0L216.3 226.8L211.2 226.8Z" fill="#f4f020"/>
<text x="231.0" y="227.2" font-size="7.1" font-weight="bold" text-anchor="start" fill="#111" stroke="#111" stroke-width="0.3">Hmg2</text>
<line x1="200.5" y1="237.4" x2="227.0" y2="237.4" stroke="#3aa8f0" stroke-width="1.4"/>
<path d="M211.6 235.2L215.9 239.6M215.9 235.2L211.6 239.6" stroke="#3aa8f0" stroke-width="1.3" fill="none"/>
<text x="231.0" y="240.0" font-size="7.1" font-weight="bold" text-anchor="start" fill="#111" stroke="#111" stroke-width="0.3">Idh1</text>
<line x1="200.5" y1="250.1" x2="227.0" y2="250.1" stroke="#8a2a8a" stroke-width="1.4"/>
<path d="M211.6 247.9L215.9 252.3M215.9 247.9L211.6 252.3M213.8 247.9L213.8 252.3" stroke="#8a2a8a" stroke-width="1.4" fill="none"/>
<text x="231.0" y="252.7" font-size="7.1" font-weight="bold" text-anchor="start" fill="#111" stroke="#111" stroke-width="0.3">Ldh1</text>
<line x1="200.5" y1="262.9" x2="227.0" y2="262.9" stroke="#a01432" stroke-width="1.4"/>
<circle cx="213.8" cy="262.9" r="2.4" fill="#a01432"/>
<text x="231.0" y="265.5" font-size="7.1" font-weight="bold" text-anchor="start" fill="#111" stroke="#111" stroke-width="0.3">P4hb</text>
<line x1="200.5" y1="275.7" x2="227.0" y2="275.7" stroke="#2e5878" stroke-width="1.4"/>
<path d="M211.6 275.7L215.9 275.7M213.8 273.0L213.8 278.4" stroke="#2e5878" stroke-width="1.2" fill="none"/>
<text x="231.0" y="278.3" font-size="7.1" font-weight="bold" text-anchor="start" fill="#111" stroke="#111" stroke-width="0.3">Rac2</text>
<line x1="200.5" y1="288.5" x2="227.0" y2="288.5" stroke="#101040" stroke-width="1.4"/>
<path d="M211.6 288.5L215.9 288.5" stroke="#101040" stroke-width="1.4" fill="none"/>
<text x="231.0" y="291.1" font-size="7.1" font-weight="bold" text-anchor="start" fill="#111" stroke="#111" stroke-width="0.3">Tpm5</text>
<line x1="200.5" y1="301.0" x2="227.0" y2="301.0" stroke="#2f7fe0" stroke-width="1.4"/>
<text x="231.0" y="303.6" font-size="7.1" font-weight="bold" text-anchor="start" fill="#111" stroke="#111" stroke-width="0.3">Vim</text>
<line x1="200.5" y1="313.3" x2="210.2" y2="313.3" stroke="#ee1538" stroke-width="2.8"/>
<line x1="217.2" y1="313.3" x2="227.0" y2="313.3" stroke="#ee1538" stroke-width="2.8"/>
<path d="M213.8 310.7L216.3 313.3L213.8 315.9L211.2 313.3Z" fill="#dff8ff"/>
<rect x="267" y="185" width="250.60000000000002" height="153" fill="#fff" stroke="#3c3c3c" stroke-width="1.2"/>
<text x="267.0" y="182.1" font-size="17.3" font-weight="bold" text-anchor="start" fill="#000" stroke="#000" stroke-width="0.2">D</text>
<rect x="298" y="202.4" width="148.60000000000002" height="119.9" fill="#dfe1ef" stroke="#9a9aae" stroke-width="1"/>
<line x1="298" y1="202.4" x2="446.6" y2="202.4" stroke="#888" stroke-width="1.2"/>
<line x1="298" y1="236.1" x2="446.6" y2="236.1" stroke="#45455a" stroke-width="1.1"/>
<line x1="298" y1="287.6" x2="446.6" y2="287.6" stroke="#45455a" stroke-width="1.1"/>
<line x1="298" y1="305.0" x2="446.6" y2="305.0" stroke="#45455a" stroke-width="1.1"/>
<line x1="298" y1="253.4" x2="447.6" y2="253.4" stroke="#3a3a48" stroke-width="1.1"/>
<line x1="321.2" y1="253.4" x2="321.2" y2="255.6" stroke="#3a3a48" stroke-width="1"/>
<line x1="358.8" y1="253.4" x2="358.8" y2="255.6" stroke="#3a3a48" stroke-width="1"/>
<line x1="396.0" y1="253.4" x2="396.0" y2="255.6" stroke="#3a3a48" stroke-width="1"/>
<line x1="432.7" y1="253.4" x2="432.7" y2="255.6" stroke="#3a3a48" stroke-width="1"/>
<line x1="299.0" y1="253.4" x2="299.0" y2="255.6" stroke="#3a3a48" stroke-width="1"/>
<line x1="446.1" y1="253.4" x2="446.1" y2="255.6" stroke="#3a3a48" stroke-width="1"/>
<text x="293.5" y="204.2" font-size="8.1" font-weight="bold" text-anchor="end" fill="#111" stroke="#111" stroke-width="0.45">1.5</text>
<text x="293.5" y="221.2" font-size="8.1" font-weight="bold" text-anchor="end" fill="#111" stroke="#111" stroke-width="0.45">1</text>
<text x="293.5" y="238.1" font-size="8.1" font-weight="bold" text-anchor="end" fill="#111" stroke="#111" stroke-width="0.45">0.5</text>
<text x="293.5" y="255.1" font-size="8.1" font-weight="bold" text-anchor="end" fill="#111" stroke="#111" stroke-width="0.45">0</text>
<text x="293.5" y="272.9" font-size="8.1" font-weight="bold" text-anchor="end" fill="#111" stroke="#111" stroke-width="0.45">-0.5</text>
<text x="293.5" y="307.1" font-size="8.1" font-weight="bold" text-anchor="end" fill="#111" stroke="#111" stroke-width="0.45">-1.5</text>
<path d="M321.2 292.9L325.2 300.5L317.2 300.5Z" fill="#f0b838"/>
<path d="M358.8 219.8L362.8 227.4L354.8 227.4Z" fill="#f0b838"/>
<path d="M396.0 219.8L400.0 227.4L392.0 227.4Z" fill="#f0b838"/>
<path d="M432.7 256.4L436.7 264.0L428.7 264.0Z" fill="#f0b838"/>
<polyline points="321.2,295.2 358.8,231.8 396.0,231.8 432.7,231.8" fill="none" stroke="#14195e" stroke-width="1.2" stroke-linejoin="round"/>
<path d="M321.2 291.0L325.4 295.2L321.2 299.4L317.0 295.2Z" fill="#14195e"/>
<path d="M358.8 227.6L363.0 231.8L358.8 236.0L354.6 231.8Z" fill="#14195e"/>
<path d="M396.0 227.6L400.2 231.8L396.0 236.0L391.8 231.8Z" fill="#14195e"/>
<path d="M432.7 227.6L436.9 231.8L432.7 236.0L428.5 231.8Z" fill="#14195e"/>
<polyline points="321.2,295.2 358.8,230.8 396.0,230.8 432.7,231.8" fill="none" stroke="#f43cb8" stroke-width="1.2" stroke-linejoin="round"/>
<rect x="317.6" y="291.6" width="7.2" height="7.2" fill="#f43cb8"/>
<rect x="355.2" y="227.2" width="7.2" height="7.2" fill="#f43cb8"/>
<rect x="392.4" y="227.2" width="7.2" height="7.2" fill="#f43cb8"/>
<rect x="429.1" y="228.2" width="7.2" height="7.2" fill="#f43cb8"/>
<polyline points="321.2,295.2 358.8,220.3 396.0,220.3 432.7,258.6" fill="none" stroke="#8a2a8a" stroke-width="1.2" stroke-linejoin="round"/>
<path d="M317.6 291.6L324.8 298.8M324.8 291.6L317.6 298.8M321.2 291.6L321.2 298.8" stroke="#8a2a8a" stroke-width="1.4" fill="none"/>
<path d="M355.2 216.7L362.4 223.9M362.4 216.7L355.2 223.9M358.8 216.7L358.8 223.9" stroke="#8a2a8a" stroke-width="1.4" fill="none"/>
<path d="M392.4 216.7L399.6 223.9M399.6 216.7L392.4 223.9M396.0 216.7L396.0 223.9" stroke="#8a2a8a" stroke-width="1.4" fill="none"/>
<path d="M429.1 255.0L436.3 262.2M436.3 255.0L429.1 262.2M432.7 255.0L432.7 262.2" stroke="#8a2a8a" stroke-width="1.4" fill="none"/>
<polyline points="321.2,293.4 358.8,240.2 396.0,216.9 432.7,239.5" fill="none" stroke="#2f7fe0" stroke-width="1.2" stroke-linejoin="round"/>
<polyline points="321.2,293.4 358.8,239.5 396.0,215.8 432.7,240.2" fill="none" stroke="#3aa8f0" stroke-width="1.2" stroke-linejoin="round"/>
<path d="M317.6 289.8L324.8 297.0M324.8 289.8L317.6 297.0" stroke="#3aa8f0" stroke-width="1.3" fill="none"/>
<path d="M355.2 235.9L362.4 243.1M362.4 235.9L355.2 243.1" stroke="#3aa8f0" stroke-width="1.3" fill="none"/>
<path d="M392.4 212.2L399.6 219.4M399.6 212.2L392.4 219.4" stroke="#3aa8f0" stroke-width="1.3" fill="none"/>
<path d="M429.1 236.6L436.3 243.8M436.3 236.6L429.1 243.8" stroke="#3aa8f0" stroke-width="1.3" fill="none"/>
<polyline points="321.2,295.2 358.8,223.8 396.0,256.9 432.7,222.1" fill="none" stroke="#2e5878" stroke-width="1.2" stroke-linejoin="round"/>
<path d="M317.6 295.2L324.8 295.2M321.2 291.1L321.2 299.3" stroke="#2e5878" stroke-width="1.2" fill="none"/>
<path d="M355.2 223.8L362.4 223.8M358.8 219.7L358.8 227.9" stroke="#2e5878" stroke-width="1.2" fill="none"/>
<path d="M392.4 256.9L399.6 256.9M396.0 252.8L396.0 261.0" stroke="#2e5878" stroke-width="1.2" fill="none"/>
<path d="M429.1 222.1L436.3 222.1M432.7 218.0L432.7 226.2" stroke="#2e5878" stroke-width="1.2" fill="none"/>
<polyline points="321.2,293.4 358.8,220.3 396.0,220.3 432.7,258.6" fill="none" stroke="#101040" stroke-width="1.3" stroke-linejoin="round"/>
<path d="M355.2 216.7L362.4 223.9M362.4 216.7L355.2 223.9M358.8 216.7L358.8 223.9" stroke="#8a2a8a" stroke-width="1.4" fill="none"/>
<path d="M392.4 216.7L399.6 223.9M399.6 216.7L392.4 223.9M396.0 216.7L396.0 223.9" stroke="#8a2a8a" stroke-width="1.4" fill="none"/>
<path d="M429.1 255.0L436.3 262.2M436.3 255.0L429.1 262.2M432.7 255.0L432.7 262.2" stroke="#8a2a8a" stroke-width="1.4" fill="none"/>
<polyline points="321.2,295.2 358.8,230.8 396.0,232.5 432.7,230.8" fill="none" stroke="#a01432" stroke-width="1.2" stroke-linejoin="round"/>
<polyline points="321.2,295.9 358.8,233.2 396.0,230.8 432.7,233.2" fill="none" stroke="#ee1538" stroke-width="3.0" stroke-linejoin="round"/>
<rect x="317.6" y="297.8" width="7.2" height="7.2" fill="#c01028"/>
<rect x="355.2" y="227.2" width="7.2" height="7.2" fill="#c01028"/>
<rect x="429.1" y="227.2" width="7.2" height="7.2" fill="#c01028"/>
<path d="M321.2 289.0L325.6 293.4L321.2 297.8L316.8 293.4Z" fill="#dff8ff"/>
<path d="M358.8 233.3L363.2 237.7L358.8 242.1L354.4 237.7Z" fill="#dff8ff"/>
<path d="M396.0 224.6L400.4 229.0L396.0 233.4L391.6 229.0Z" fill="#dff8ff"/>
<path d="M432.7 231.6L437.1 236.0L432.7 240.4L428.3 236.0Z" fill="#dff8ff"/>
<text x="320.3" y="267.8" font-size="7.6" font-weight="bold" text-anchor="middle" fill="#111" stroke="#111" stroke-width="0.4">0h</text>
<text x="359.2" y="267.8" font-size="7.6" font-weight="bold" text-anchor="middle" fill="#111" stroke="#111" stroke-width="0.4">24h</text>
<text x="396.2" y="267.8" font-size="7.6" font-weight="bold" text-anchor="middle" fill="#111" stroke="#111" stroke-width="0.4">48h</text>
<text x="432.3" y="267.8" font-size="7.6" font-weight="bold" text-anchor="middle" fill="#111" stroke="#111" stroke-width="0.4">72h</text>
<line x1="463.5" y1="200.3" x2="489.0" y2="200.3" stroke="#14195e" stroke-width="1.4"/>
<path d="M476.2 197.5L479.0 200.3L476.2 203.1L473.5 200.3Z" fill="#14195e"/>
<text x="493.3" y="202.7" font-size="6.7" font-weight="bold" text-anchor="start" fill="#111" stroke="#111" stroke-width="0.3">Alp5a1</text>
<line x1="463.5" y1="212.4" x2="489.0" y2="212.4" stroke="#f43cb8" stroke-width="1.4"/>
<rect x="474.1" y="210.2" width="4.3" height="4.3" fill="#f43cb8"/>
<text x="493.3" y="214.8" font-size="6.7" font-weight="bold" text-anchor="start" fill="#111" stroke="#111" stroke-width="0.3">Hcph</text>
<line x1="463.5" y1="224.3" x2="489.0" y2="224.3" stroke="#f4f020" stroke-width="1.4"/>
<path d="M476.2 221.7L478.8 226.5L473.7 226.5Z" fill="#f4f020"/>
<text x="493.3" y="226.7" font-size="6.7" font-weight="bold" text-anchor="start" fill="#111" stroke="#111" stroke-width="0.3">Hsc70</text>
<line x1="463.5" y1="236.3" x2="489.0" y2="236.3" stroke="#3aa8f0" stroke-width="1.4"/>
<path d="M474.1 234.1L478.4 238.5M478.4 234.1L474.1 238.5" stroke="#3aa8f0" stroke-width="1.3" fill="none"/>
<text x="493.3" y="238.7" font-size="6.7" font-weight="bold" text-anchor="start" fill="#111" stroke="#111" stroke-width="0.3">Hspa5</text>
<line x1="463.5" y1="248.3" x2="489.0" y2="248.3" stroke="#8a2a8a" stroke-width="1.4"/>
<path d="M474.1 246.1L478.4 250.5M478.4 246.1L474.1 250.5M476.2 246.1L476.2 250.5" stroke="#8a2a8a" stroke-width="1.4" fill="none"/>
<text x="493.3" y="250.7" font-size="6.7" font-weight="bold" text-anchor="start" fill="#111" stroke="#111" stroke-width="0.3">Hspa8</text>
<line x1="463.5" y1="260.4" x2="489.0" y2="260.4" stroke="#a01432" stroke-width="1.4"/>
<circle cx="476.2" cy="260.4" r="2.4" fill="#a01432"/>
<text x="493.3" y="262.8" font-size="6.7" font-weight="bold" text-anchor="start" fill="#111" stroke="#111" stroke-width="0.3">Nme1</text>
<line x1="463.5" y1="272.2" x2="489.0" y2="272.2" stroke="#2e5878" stroke-width="1.4"/>
<path d="M474.1 272.2L478.4 272.2M476.2 269.5L476.2 274.9" stroke="#2e5878" stroke-width="1.2" fill="none"/>
<text x="493.3" y="274.6" font-size="6.7" font-weight="bold" text-anchor="start" fill="#111" stroke="#111" stroke-width="0.3">Tuba6</text>
<line x1="463.5" y1="284.1" x2="489.0" y2="284.1" stroke="#101040" stroke-width="1.4"/>
<text x="493.3" y="286.5" font-size="6.7" font-weight="bold" text-anchor="start" fill="#111" stroke="#111" stroke-width="0.3">Tubb5</text>
<line x1="463.5" y1="295.9" x2="489.0" y2="295.9" stroke="#2f7fe0" stroke-width="1.4"/>
<text x="493.3" y="298.3" font-size="6.7" font-weight="bold" text-anchor="start" fill="#111" stroke="#111" stroke-width="0.3">Vim</text>
<line x1="463.5" y1="307.9" x2="473.8" y2="307.9" stroke="#ee1538" stroke-width="2.8"/>
<line x1="478.8" y1="307.9" x2="489.0" y2="307.9" stroke="#ee1538" stroke-width="2.8"/>
<rect x="2.3" y="358.9" width="316.3" height="149.3" fill="#fff" stroke="#3c3c3c" stroke-width="1.2"/>
<text x="1.4" y="356.5" font-size="17.3" font-weight="bold" text-anchor="start" fill="#000" stroke="#000" stroke-width="0.2">E</text>
<rect x="30.3" y="371.4" width="161.5" height="123.80000000000001" fill="#dfe1ef" stroke="#9a9aae" stroke-width="1"/>
<line x1="30.3" y1="371.4" x2="191.8" y2="371.4" stroke="#666" stroke-width="1.2"/>
<line x1="30.3" y1="389.0" x2="191.8" y2="389.0" stroke="#45455a" stroke-width="1.1"/>
<line x1="30.3" y1="424.7" x2="191.8" y2="424.7" stroke="#45455a" stroke-width="1.1"/>
<line x1="30.3" y1="478.0" x2="191.8" y2="478.0" stroke="#45455a" stroke-width="1.1"/>
<line x1="30.3" y1="442.8" x2="192.8" y2="442.8" stroke="#3a3a48" stroke-width="1.1"/>
<line x1="50.0" y1="442.8" x2="50.0" y2="445.0" stroke="#3a3a48" stroke-width="1"/>
<line x1="90.7" y1="442.8" x2="90.7" y2="445.0" stroke="#3a3a48" stroke-width="1"/>
<line x1="130.8" y1="442.8" x2="130.8" y2="445.0" stroke="#3a3a48" stroke-width="1"/>
<line x1="171.5" y1="442.8" x2="171.5" y2="445.0" stroke="#3a3a48" stroke-width="1"/>
<line x1="31.3" y1="442.8" x2="31.3" y2="445.0" stroke="#3a3a48" stroke-width="1"/>
<line x1="191.3" y1="442.8" x2="191.3" y2="445.0" stroke="#3a3a48" stroke-width="1"/>
<text x="23.0" y="374.1" font-size="8.1" font-weight="bold" text-anchor="end" fill="#111" stroke="#111" stroke-width="0.45">2</text>
<text x="23.0" y="391.4" font-size="8.1" font-weight="bold" text-anchor="end" fill="#111" stroke="#111" stroke-width="0.45">1.5</text>
<text x="23.0" y="409.0" font-size="8.1" font-weight="bold" text-anchor="end" fill="#111" stroke="#111" stroke-width="0.45">1</text>
<text x="23.0" y="426.6" font-size="8.1" font-weight="bold" text-anchor="end" fill="#111" stroke="#111" stroke-width="0.45">0.5</text>
<text x="23.0" y="444.9" font-size="8.1" font-weight="bold" text-anchor="end" fill="#111" stroke="#111" stroke-width="0.45">0</text>
<text x="23.0" y="462.6" font-size="8.1" font-weight="bold" text-anchor="end" fill="#111" stroke="#111" stroke-width="0.45">-0.5</text>
<text x="23.0" y="498.1" font-size="8.1" font-weight="bold" text-anchor="end" fill="#111" stroke="#111" stroke-width="0.45">-1.5</text>
<polyline points="50.0,467.6 90.7,446.3 130.8,425.1 171.5,393.2" fill="none" stroke="#d8f4ff" stroke-width="1.2" stroke-linejoin="round"/>
<polyline points="50.0,453.4 90.7,457.0 130.8,435.0 171.5,391.5" fill="none" stroke="#d0f5d8" stroke-width="1.2" stroke-linejoin="round"/>
<polyline points="50.0,453.4 90.7,453.4 130.8,453.4 171.5,386.2" fill="none" stroke="#fff4a0" stroke-width="1.4" stroke-linejoin="round"/>
<polyline points="50.0,476.4 90.7,460.5 130.8,423.3 171.5,395.0" fill="none" stroke="#ffd8e0" stroke-width="1.2" stroke-linejoin="round"/>
<polyline points="50.0,464.0 90.7,446.3 130.8,421.6 171.5,389.7" fill="none" stroke="#a8d8f8" stroke-width="1.2" stroke-linejoin="round"/>
<polyline points="50.0,453.4 90.7,453.4 130.8,435.0 171.5,391.5" fill="none" stroke="#90e860" stroke-width="1.1" stroke-linejoin="round"/>
<polyline points="50.0,449.9 90.7,453.4 130.8,453.4 171.5,382.6" fill="none" stroke="#f8f070" stroke-width="1.2" stroke-linejoin="round"/>
<path d="M50.0 445.9L54.0 453.5L46.0 453.5Z" fill="#f8f070"/>
<path d="M90.7 449.4L94.7 457.0L86.7 457.0Z" fill="#f8f070"/>
<path d="M130.8 449.4L134.8 457.0L126.8 457.0Z" fill="#f8f070"/>
<path d="M171.5 378.6L175.5 386.2L167.5 386.2Z" fill="#f8f070"/>
<polyline points="50.0,450.9 90.7,453.4 130.8,453.4 171.5,380.9" fill="none" stroke="#f8e838" stroke-width="1.2" stroke-linejoin="round"/>
<circle cx="50.0" cy="450.9" r="3.8" fill="#f8e838"/>
<circle cx="90.7" cy="453.4" r="3.8" fill="#f8e838"/>
<circle cx="130.8" cy="453.4" r="3.8" fill="#f8e838"/>
<circle cx="171.5" cy="380.9" r="3.8" fill="#f8e838"/>
<polyline points="50.0,474.0 90.7,448.1 130.8,420.1 171.5,393.2" fill="none" stroke="#f4a8f0" stroke-width="1.3" stroke-linejoin="round"/>
<path d="M46.4 470.4L53.6 477.6M53.6 470.4L46.4 477.6" stroke="#e070e0" stroke-width="1.3" fill="none"/>
<path d="M87.1 444.5L94.3 451.7M94.3 444.5L87.1 451.7" stroke="#e070e0" stroke-width="1.3" fill="none"/>
<path d="M127.2 416.5L134.4 423.7M134.4 416.5L127.2 423.7" stroke="#e070e0" stroke-width="1.3" fill="none"/>
<path d="M167.9 389.6L175.1 396.8M175.1 389.6L167.9 396.8" stroke="#e070e0" stroke-width="1.3" fill="none"/>
<polyline points="50.0,471.8 90.7,453.4 130.8,423.3 171.5,391.5" fill="none" stroke="#ff70d0" stroke-width="1.1" stroke-linejoin="round"/>
<rect x="46.4" y="467.5" width="7.2" height="7.2" fill="#ff70d0"/>
<rect x="46.4" y="473.5" width="7.2" height="7.2" fill="#f0a0f0"/>
<polyline points="50.0,464.0 90.7,457.0 130.8,425.1 171.5,389.7" fill="none" stroke="#60b8f0" stroke-width="1.1" stroke-linejoin="round"/>
<polyline points="50.0,465.1 90.7,464.4 130.8,426.9 171.5,389.7" fill="none" stroke="#f0a040" stroke-width="1.3" stroke-linejoin="round"/>
<path d="M50.0 461.1L54.0 468.7L46.0 468.7Z" fill="#f0a040"/>
<path d="M90.7 460.4L94.7 468.0L86.7 468.0Z" fill="#f0a040"/>
<path d="M130.8 422.9L134.8 430.5L126.8 430.5Z" fill="#f0a040"/>
<path d="M171.5 385.7L175.5 393.3L167.5 393.3Z" fill="#f0a040"/>
<polyline points="50.0,466.2 90.7,466.2 130.8,405.6 171.5,405.6" fill="none" stroke="#30b8e8" stroke-width="1.4" stroke-linejoin="round"/>
<polyline points="50.0,435.7 90.7,435.7 130.8,478.2 171.5,391.5" fill="none" stroke="#f07060" stroke-width="1.2" stroke-linejoin="round"/>
<path d="M46.4 432.1L53.6 439.3M53.6 432.1L46.4 439.3" stroke="#f07060" stroke-width="1.3" fill="none"/>
<path d="M87.1 432.1L94.3 439.3M94.3 432.1L87.1 439.3" stroke="#f07060" stroke-width="1.3" fill="none"/>
<path d="M127.2 474.6L134.4 481.8M134.4 474.6L127.2 481.8" stroke="#f07060" stroke-width="1.3" fill="none"/>
<path d="M167.9 387.9L175.1 395.1M175.1 387.9L167.9 395.1" stroke="#f07060" stroke-width="1.3" fill="none"/>
<polyline points="50.0,458.7 90.7,451.7 130.8,442.8 171.5,387.2" fill="none" stroke="#a01432" stroke-width="1.2" stroke-linejoin="round"/>
<polyline points="50.0,458.7 90.7,451.7 130.8,442.8 171.5,387.2" fill="none" stroke="#2f7fe0" stroke-width="1.2" stroke-linejoin="round"/>
<polyline points="50.0,458.7 90.7,451.7 130.8,442.8 171.5,387.2" fill="none" stroke="#2e5878" stroke-width="1.2" stroke-linejoin="round"/>
<polyline points="50.0,458.7 90.7,451.7 130.8,442.8 171.5,387.2" fill="none" stroke="#101040" stroke-width="1.2" stroke-linejoin="round"/>
<polyline points="50.0,458.7 90.7,449.9 130.8,442.8 171.5,387.2" fill="none" stroke="#14195e" stroke-width="1.2" stroke-linejoin="round"/>
<path d="M50.0 454.5L54.2 458.7L50.0 462.9L45.8 458.7Z" fill="#14195e"/>
<path d="M90.7 445.7L94.9 449.9L90.7 454.1L86.5 449.9Z" fill="#14195e"/>
<path d="M130.8 438.6L135.0 442.8L130.8 447.0L126.6 442.8Z" fill="#14195e"/>
<path d="M171.5 383.0L175.7 387.2L171.5 391.4L167.3 387.2Z" fill="#14195e"/>
<polyline points="50.0,458.7 90.7,448.1 130.8,442.8 171.5,386.9" fill="none" stroke="#7070e0" stroke-width="1.3" stroke-linejoin="round"/>
<path d="M46.4 455.1L53.6 462.3M53.6 455.1L46.4 462.3M50.0 455.1L50.0 462.3" stroke="#5858e0" stroke-width="1.4" fill="none"/>
<path d="M87.1 444.5L94.3 451.7M94.3 444.5L87.1 451.7M90.7 444.5L90.7 451.7" stroke="#5858e0" stroke-width="1.4" fill="none"/>
<path d="M127.2 439.2L134.4 446.4M134.4 439.2L127.2 446.4M130.8 439.2L130.8 446.4" stroke="#5858e0" stroke-width="1.4" fill="none"/>
<path d="M167.9 383.3L175.1 390.5M175.1 383.3L167.9 390.5M171.5 383.3L171.5 390.5" stroke="#5858e0" stroke-width="1.4" fill="none"/>
<polyline points="50.0,458.7 90.7,451.7 130.8,442.1 171.5,387.2" fill="none" stroke="#ee1538" stroke-width="3.0" stroke-linejoin="round"/>
<text x="50.0" y="457.1" font-size="7.6" font-weight="bold" text-anchor="middle" fill="#111" stroke="#111" stroke-width="0.4">0h</text>
<text x="91.0" y="457.1" font-size="7.6" font-weight="bold" text-anchor="middle" fill="#111" stroke="#111" stroke-width="0.4">24h</text>
<text x="130.8" y="457.1" font-size="7.6" font-weight="bold" text-anchor="middle" fill="#111" stroke="#111" stroke-width="0.4">48h</text>
<text x="171.5" y="457.1" font-size="7.6" font-weight="bold" text-anchor="middle" fill="#111" stroke="#111" stroke-width="0.4">72h</text>
<line x1="206.3" y1="367.1" x2="231.0" y2="367.1" stroke="#14195e" stroke-width="1.2"/>
<path d="M218.7 364.7L221.1 367.1L218.7 369.5L216.2 367.1Z" fill="#14195e"/>
<text x="235.0" y="369.5" font-size="6.8" font-weight="normal" text-anchor="start" fill="#111" stroke="#111" stroke-width="0.4">Actg</text>
<line x1="206.3" y1="377.8" x2="231.0" y2="377.8" stroke="#f8f060" stroke-width="1.2"/>
<path d="M218.7 375.6L220.9 379.6L216.4 379.6Z" fill="#f8f060"/>
<text x="235.0" y="380.2" font-size="6.8" font-weight="normal" text-anchor="start" fill="#111" stroke="#111" stroke-width="0.4">Actg</text>
<line x1="206.3" y1="388.4" x2="231.0" y2="388.4" stroke="#8a2a8a" stroke-width="1.2"/>
<circle cx="218.7" cy="388.4" r="2.0" fill="#8a2a8a"/>
<text x="235.0" y="390.8" font-size="6.8" font-weight="normal" text-anchor="start" fill="#111" stroke="#111" stroke-width="0.4">Arxa11</text>
<line x1="206.3" y1="399.3" x2="231.0" y2="399.3" stroke="#2e5878" stroke-width="1.2"/>
<path d="M216.8 399.3L220.5 399.3M218.7 397.0L218.7 401.6" stroke="#2e5878" stroke-width="1.2" fill="none"/>
<text x="235.0" y="401.7" font-size="6.8" font-weight="normal" text-anchor="start" fill="#111" stroke="#111" stroke-width="0.4">Arhgdib</text>
<line x1="206.3" y1="410.1" x2="231.0" y2="410.1" stroke="#2f7fe0" stroke-width="1.2"/>
<path d="M216.8 410.1L220.5 410.1" stroke="#2f7fe0" stroke-width="1.4" fill="none"/>
<text x="235.0" y="412.5" font-size="6.8" font-weight="normal" text-anchor="start" fill="#111" stroke="#111" stroke-width="0.4">Crmp1</text>
<line x1="206.3" y1="420.8" x2="231.0" y2="420.8" stroke="#c8f5e0" stroke-width="1.2"/>
<circle cx="218.7" cy="420.8" r="2.0" fill="#c8f5e0"/>
<text x="235.0" y="423.2" font-size="6.8" font-weight="normal" text-anchor="start" fill="#111" stroke="#111" stroke-width="0.4">H2-Ab1</text>
<line x1="206.3" y1="431.6" x2="231.0" y2="431.6" stroke="#9ed8f5" stroke-width="1.2"/>
<circle cx="218.7" cy="431.6" r="2.0" fill="#9ed8f5"/>
<text x="235.0" y="434.0" font-size="6.8" font-weight="normal" text-anchor="start" fill="#111" stroke="#111" stroke-width="0.4">Lgals3</text>
<line x1="206.3" y1="442.4" x2="231.0" y2="442.4" stroke="#7070e0" stroke-width="1.2"/>
<circle cx="218.7" cy="442.4" r="2.0" fill="#7070e0"/>
<text x="235.0" y="444.8" font-size="6.8" font-weight="normal" text-anchor="start" fill="#111" stroke="#111" stroke-width="0.4">Pdi4</text>
<line x1="206.3" y1="453.3" x2="231.0" y2="453.3" stroke="#101040" stroke-width="1.2"/>
<text x="235.0" y="455.7" font-size="6.8" font-weight="normal" text-anchor="start" fill="#111" stroke="#111" stroke-width="0.4">Tagln2</text>
<line x1="206.3" y1="464.2" x2="231.0" y2="464.2" stroke="#70e040" stroke-width="1.2"/>
<circle cx="218.7" cy="464.2" r="2.0" fill="#70e040"/>
<text x="235.0" y="466.6" font-size="6.8" font-weight="normal" text-anchor="start" fill="#111" stroke="#111" stroke-width="0.4">Tpi</text>
<line x1="206.3" y1="475.3" x2="231.0" y2="475.3" stroke="#f0a040" stroke-width="1.2"/>
<circle cx="218.7" cy="475.3" r="2.0" fill="#f0a040"/>
<text x="235.0" y="477.7" font-size="6.8" font-weight="normal" text-anchor="start" fill="#111" stroke="#111" stroke-width="0.4">Tpm5</text>
<line x1="206.3" y1="485.6" x2="231.0" y2="485.6" stroke="#ee1538" stroke-width="2.8"/>
<rect x="217.3" y="484.3" width="2.6" height="2.6" fill="#6a6ae0"/>
<line x1="264.3" y1="366.9" x2="288.5" y2="366.9" stroke="#f43cb8" stroke-width="1.2"/>
<circle cx="276.4" cy="366.9" r="2.0" fill="#f43cb8"/>
<text x="294.0" y="369.3" font-size="6.8" font-weight="normal" text-anchor="start" fill="#111" stroke="#111" stroke-width="0.4">Actg</text>
<line x1="264.3" y1="377.9" x2="288.5" y2="377.9" stroke="#3aa8f0" stroke-width="1.2"/>
<rect x="274.6" y="376.1" width="3.6" height="3.6" fill="#3aa8f0"/>
<text x="294.0" y="380.3" font-size="6.8" font-weight="normal" text-anchor="start" fill="#111" stroke="#111" stroke-width="0.4">Aldh2</text>
<line x1="264.3" y1="388.6" x2="288.5" y2="388.6" stroke="#a01432" stroke-width="1.2"/>
<circle cx="276.4" cy="388.6" r="2.0" fill="#a01432"/>
<text x="294.0" y="391.0" font-size="6.8" font-weight="normal" text-anchor="start" fill="#111" stroke="#111" stroke-width="0.4">Anxa2</text>
<line x1="264.3" y1="399.5" x2="288.5" y2="399.5" stroke="#101040" stroke-width="1.2"/>
<path d="M274.6 399.5L278.2 399.5" stroke="#101040" stroke-width="1.4" fill="none"/>
<text x="294.0" y="401.9" font-size="6.8" font-weight="normal" text-anchor="start" fill="#111" stroke="#111" stroke-width="0.4">Coro1a</text>
<line x1="264.3" y1="410.2" x2="288.5" y2="410.2" stroke="#d4f4ff" stroke-width="1.2"/>
<circle cx="276.4" cy="410.2" r="2.0" fill="#d4f4ff"/>
<text x="294.0" y="412.6" font-size="6.8" font-weight="normal" text-anchor="start" fill="#111" stroke="#111" stroke-width="0.4">Es10</text>
<line x1="264.3" y1="420.9" x2="288.5" y2="420.9" stroke="#fff8a8" stroke-width="1.2"/>
<circle cx="276.4" cy="420.9" r="2.0" fill="#fff8a8"/>
<text x="294.0" y="423.3" font-size="6.8" font-weight="normal" text-anchor="start" fill="#111" stroke="#111" stroke-width="0.4">Hmg2</text>
<line x1="264.3" y1="431.7" x2="288.5" y2="431.7" stroke="#f09ae8" stroke-width="1.2"/>
<circle cx="276.4" cy="431.7" r="2.0" fill="#f09ae8"/>
<text x="294.0" y="434.1" font-size="6.8" font-weight="normal" text-anchor="start" fill="#111" stroke="#111" stroke-width="0.4">Pbp</text>
<line x1="264.3" y1="442.5" x2="288.5" y2="442.5" stroke="#ffd0d8" stroke-width="1.2"/>
<text x="294.0" y="444.9" font-size="6.8" font-weight="normal" text-anchor="start" fill="#111" stroke="#111" stroke-width="0.4">Sod1</text>
<line x1="264.3" y1="453.3" x2="288.5" y2="453.3" stroke="#40a8d8" stroke-width="1.2"/>
<text x="294.0" y="455.7" font-size="6.8" font-weight="normal" text-anchor="start" fill="#111" stroke="#111" stroke-width="0.4">Taldo1</text>
<line x1="264.3" y1="464.2" x2="288.5" y2="464.2" stroke="#f4f020" stroke-width="1.2"/>
<circle cx="276.4" cy="464.2" r="2.0" fill="#f4f020"/>
<text x="294.0" y="466.6" font-size="6.8" font-weight="normal" text-anchor="start" fill="#111" stroke="#111" stroke-width="0.4">Tpi</text>
<line x1="264.3" y1="475.2" x2="288.5" y2="475.2" stroke="#d85050" stroke-width="1.2"/>
<rect x="274.6" y="473.4" width="3.6" height="3.6" fill="#d85050"/>
<text x="294.0" y="477.6" font-size="6.8" font-weight="normal" text-anchor="start" fill="#111" stroke="#111" stroke-width="0.4">Ube1x</text>
</svg>
</body></html>
